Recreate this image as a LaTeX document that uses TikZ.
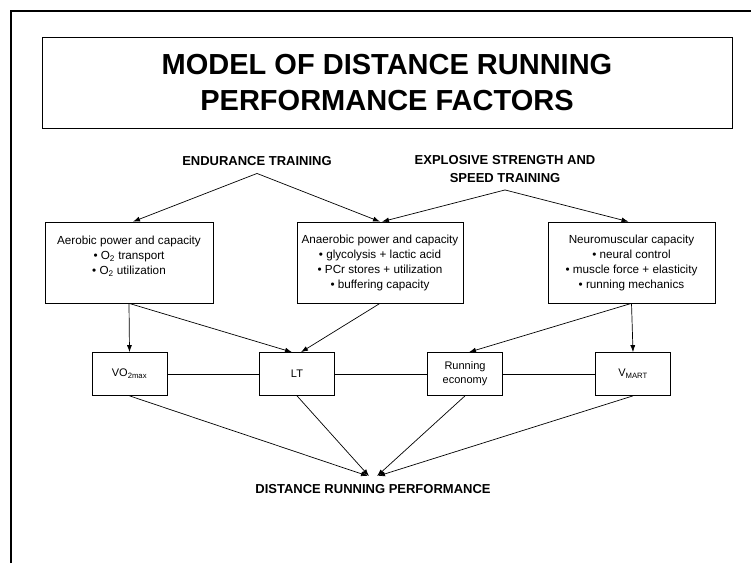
\documentclass[tikz,border=0pt]{standalone}
\usepackage{fontspec}
\setmainfont{Liberation Sans}
\usetikzlibrary{arrows.meta}

\tikzset{cadre/.style = {draw, minimum width = #1, minimum height = 81pt, align = center,
                         font = \fontsize{11.7}{15}\selectfont},
         cadre/.default = 167pt,
         facteur/.style = {draw, minimum width = 75pt, minimum height = 43pt, align = center,
                           font = \fontsize{11}{14}\selectfont},
         entrainement/.style = {align = center, inner sep = 7pt,
                                font = \fontsize{13}{18}\selectfont\bfseries},
         fleche/.style = {-{Latex[length=7pt,width=5pt]}}
        }

\begin{document}
\begin{tikzpicture}[x=1pt, y=-1pt, line width=0.7pt]
  \useasboundingbox (0,0) rectangle (751,563);
  \draw[line width=1.3pt] (11,563) -- (11,11) -- (751,11);

  % titre
  \node[draw, minimum width=690pt, minimum height=91pt, align=center,
        font=\fontsize{29}{36}\selectfont\bfseries] (titre) at (387,82.5)
        {MODEL OF DISTANCE RUNNING\\PERFORMANCE FACTORS};

  % entrainements
  \node[entrainement] (endur) at (257,161.5) {ENDURANCE TRAINING};
  \node[entrainement] (explo) at (505,169) {EXPLOSIVE STRENGTH AND\\SPEED TRAINING};

  % capacites
  \node[cadre=168pt] (aero) at (129,262.5)
        {Aerobic power and capacity\\ \textbullet\ O\textsubscript{2} transport\\
         \textbullet\ O\textsubscript{2} utilization\\ \mbox{}};
  \node[cadre=166pt] (anaero) at (380,262.5)
        {Anaerobic power and capacity\\ \textbullet\ glycolysis + lactic acid\\
         \textbullet\ PCr stores + utilization\\ \textbullet\ buffering capacity};
  \node[cadre] (neuro) at (631.5,262.5)
        {Neuromuscular capacity\\ \textbullet\ neural control\\
         \textbullet\ muscle force + elasticity\\ \textbullet\ running mechanics};

  % facteurs
  \node[facteur] (vo2) at (129.5,374) {VO\textsubscript{2max}};
  \node[facteur] (lt) at (297,374) {LT};
  \node[facteur] (re) at (465,374) {Running\\economy};
  \node[facteur] (vmart) at (633,374) {V\textsubscript{MART}};

  \node[entrainement, inner sep=8pt] (perf) at (373,489) {DISTANCE RUNNING PERFORMANCE};

  \draw[fleche] (endur.south) -- ([xshift=4pt]aero.north);
  \draw[fleche] (endur.south) -- (anaero.north);
  \draw[fleche] (explo.south) -- ([xshift=2pt]anaero.north);
  \draw[fleche] (explo.south) -- ([xshift=-3pt]neuro.north);

  \draw[fleche] (aero.south) -- (vo2.north);
  \draw[fleche] (aero.south) -- ([xshift=-5pt]lt.north);
  \draw[fleche] (anaero.south) -- ([xshift=4pt]lt.north);
  \draw[fleche] (neuro.south) -- ([xshift=4pt]re.north);
  \draw[fleche] (neuro.south) -- (vmart.north);

  \draw (vo2) -- (lt) -- (re) -- (vmart);

  \draw[fleche] (vo2.south) -- ([xshift=-5pt]perf.north);
  \draw[fleche] (lt.south) -- ([xshift=-4pt]perf.north);
  \draw[fleche] (re.south) -- ([xshift=4pt]perf.north);
  \draw[fleche] (vmart.south) -- ([xshift=5pt]perf.north);
\end{tikzpicture}
\end{document}
